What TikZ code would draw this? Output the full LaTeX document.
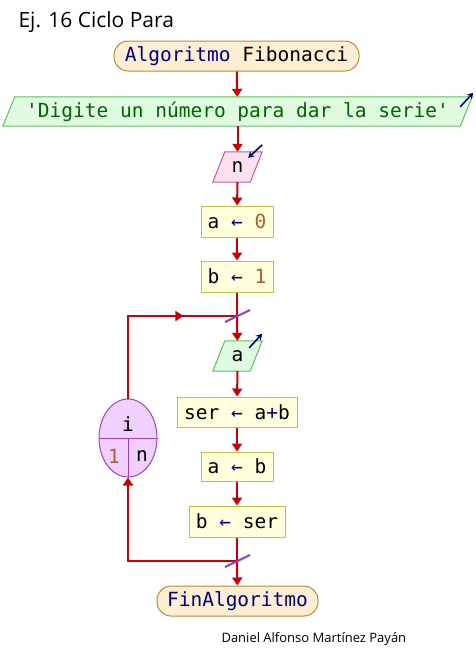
\documentclass[tikz,border=0pt]{standalone}
\usepackage{fontspec}
\setmainfont{Open Sans}
\newfontfamily\monof{DejaVu Sans Mono}
\usetikzlibrary{arrows.meta,shapes.geometric,calc,decorations.markings}
\definecolor{flowred}{HTML}{CC0000}
\definecolor{kw}{HTML}{000080}
\definecolor{numc}{HTML}{B0602A}
\definecolor{strc}{HTML}{006400}
\definecolor{termfill}{HTML}{FFEFD2}
\definecolor{termdraw}{HTML}{C08838}
\definecolor{procfill}{HTML}{FFFFDC}
\definecolor{procdraw}{HTML}{C4C040}
\definecolor{infill}{HTML}{E0FCE0}
\definecolor{indraw}{HTML}{60C060}
\definecolor{rdfill}{HTML}{FFE0F0}
\definecolor{rddraw}{HTML}{C06090}
\definecolor{loopfill}{HTML}{F0D0FF}
\definecolor{loopdraw}{HTML}{A040D0}
\definecolor{slashc}{HTML}{8A3FD0}
\pgfdeclarelayer{bg}
\pgfsetlayers{bg,main}
\newcommand{\lar}{\textcolor{kw}{←}}
\begin{document}
\begin{tikzpicture}[x=1pt,y=-1pt,
  mono/.style={font=\monof\fontsize{19.5}{22}\selectfont},
  term/.style={mono, draw=termdraw, fill=termfill, rounded corners=14pt, line width=1pt, inner sep=0pt, minimum height=30pt},
  proc/.style={mono, draw=procdraw, fill=procfill, line width=1pt, inner sep=0pt, minimum height=30pt},
  iobox/.style={mono, inner sep=0pt},
  line/.style={draw=flowred, line width=2pt},
  arr/.style={line, -{Triangle[length=8pt,width=10pt]}},
  icon/.style={draw=kw, line width=1.6pt, -{Stealth[length=6pt,width=7pt]}},
  slash/.style={draw=slashc, line width=2pt},
  midarrow/.style={postaction={decorate}, decoration={markings, mark=at position #1 with {\arrow[flowred]{Triangle[length=8pt,width=10pt]}}}}
]
\useasboundingbox (0,0) rectangle (476,649);

\node[anchor=base west, font=\fontsize{21}{23}\selectfont] (title) at (15,27) {Ej. 16 Ciclo Para};

\node[term, minimum width=245pt] (start) at (236.5,56) {\textcolor{kw}{Algoritmo} Fibonacci};
\node[iobox, minimum width=457pt, minimum height=29pt, text=strc] (in1) at (237.5,111.5) {'Digite un número para dar la serie'};
\node[iobox, minimum width=37pt, minimum height=30pt] (rn) at (237.5,167) {n};
\node[proc, minimum width=72pt, minimum height=31pt] (a0) at (237,221.5) {a \lar{} \textcolor{numc}{0}};
\node[proc, minimum width=72pt, minimum height=31pt] (b1) at (237,276.5) {b \lar{} \textcolor{numc}{1}};
\node[iobox, minimum width=37pt, minimum height=30pt] (wa) at (237.5,356) {a};
\node[proc, minimum width=120pt] (ser) at (237,412) {ser \lar{} a\textcolor{kw}{+}b};
\node[proc, minimum width=72pt, minimum height=29pt] (ab) at (237,466.5) {a \lar{} b};
\node[proc, minimum width=96pt, minimum height=31pt] (bser) at (237,521.5) {b \lar{} ser};
\node[term, minimum width=161pt] (fin) at (237.5,601) {\textcolor{kw}{FinAlgoritmo}};

\node[ellipse, draw=loopdraw, fill=loopfill, line width=1pt, minimum width=58pt, minimum height=78pt, inner sep=0pt] (loop) at (128,438) {};
\draw[draw=loopdraw, line width=1pt] (loop.west) -- (loop.east);
\draw[draw=loopdraw, line width=1pt] (loop.center) -- (loop.south);
\node[mono] (li) at (128,424) {i};
\node[mono, text=numc] (l1) at (114,456) {1};
\node[mono] (ln) at (142,456) {n};

\node[anchor=base west, font=\fontsize{13}{15}\selectfont] (author) at (218,642) {Daniel Alfonso Martínez Payán};

\begin{pgfonlayer}{bg}
  \draw[draw=indraw, fill=infill, line width=1pt] ($(in1.north west)+(6,0)$) -- ($(in1.north east)+(6,0)$) -- ($(in1.south east)+(-6,0)$) -- ($(in1.south west)+(-6,0)$) -- cycle;
  \draw[draw=rddraw, fill=rdfill, line width=1pt] ($(rn.north west)+(6,0)$) -- ($(rn.north east)+(6,0)$) -- ($(rn.south east)+(-6,0)$) -- ($(rn.south west)+(-6,0)$) -- cycle;
  \draw[draw=indraw, fill=infill, line width=1pt] ($(wa.north west)+(6,0)$) -- ($(wa.north east)+(6,0)$) -- ($(wa.south east)+(-6,0)$) -- ($(wa.south west)+(-6,0)$) -- cycle;
\end{pgfonlayer}

\coordinate (m1) at (237,316);
\coordinate (m2) at (237,561);

\draw[arr] (start) -- (in1);
\draw[arr] (in1) -- (rn);
\draw[arr] (rn) -- (a0);
\draw[arr] (a0) -- (b1);
\draw[line] (b1) -- (m1);
\draw[arr] (m1) -- (wa);
\draw[arr] (wa) -- (ser);
\draw[arr] (ser) -- (ab);
\draw[arr] (ab) -- (bser);
\draw[line] (bser) -- (m2);
\draw[arr] (m2) -- (fin);
\draw[line, midarrow=0.72] (loop.north) |- (m1);
\draw[arr] (m2) -| (loop.south);
\draw[slash] ($(m1)+(-12,6)$) -- ($(m1)+(13,-6)$);
\draw[slash] ($(m2)+(-12,6)$) -- ($(m2)+(13,-6)$);

\draw[icon] ($(in1.north east)+(-6,10)$) -- ($(in1.north east)+(7,-4)$);
\draw[icon] ($(rn.north east)+(6,-7)$) -- ($(rn.north east)+(-8,6)$);
\draw[icon] ($(wa.north east)+(-7,7)$) -- ($(wa.north east)+(6,-7)$);
\end{tikzpicture}
\end{document}
